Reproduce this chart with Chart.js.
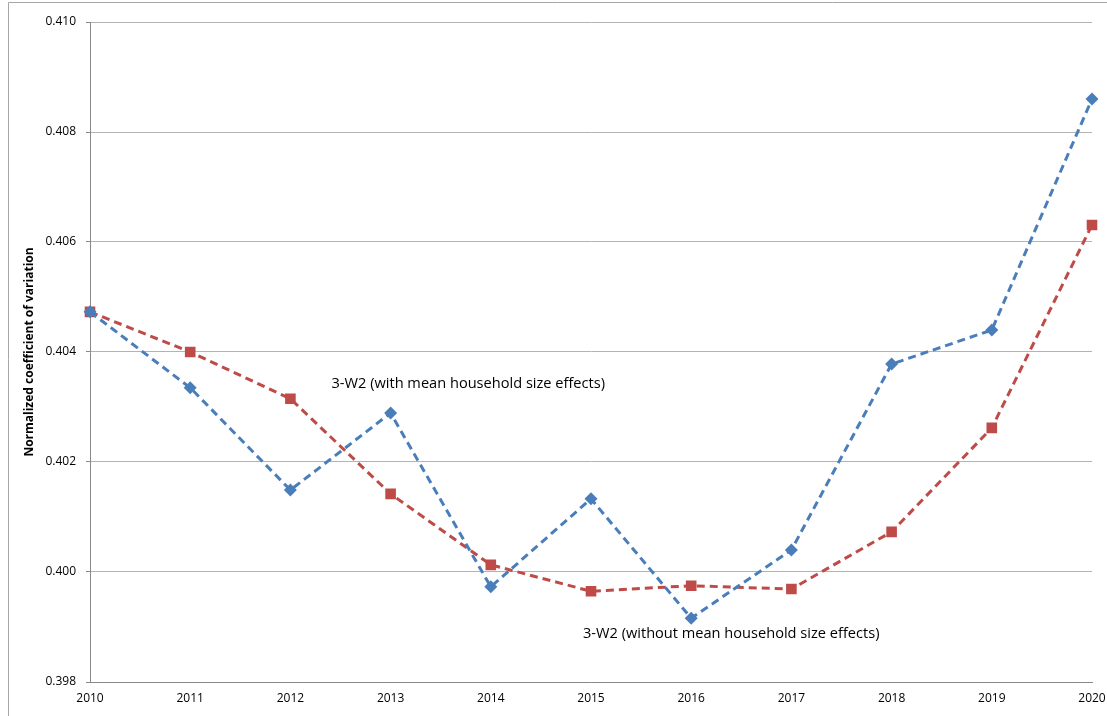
<!DOCTYPE html>
<html>
<head>
<meta charset="utf-8">
<script src="https://cdn.jsdelivr.net/npm/chart.js@4.4.1/dist/chart.umd.min.js"></script>
<style>
html,body{margin:0;padding:0;background:#fff;}
#wrap{position:relative;width:1107px;height:716px;}
</style>
</head>
<body>
<div id="wrap"><canvas id="c" width="1107" height="716"></canvas></div>
<script>
const years = ['2010','2011','2012','2013','2014','2015','2016','2017','2018','2019','2020'];
const withSize = [0.40473,0.40335,0.40149,0.40289,0.39973,0.40133,0.39916,0.40040,0.40378,0.40440,0.40860];
const withoutSize = [0.40473,0.40400,0.40315,0.40142,0.40013,0.39965,0.39975,0.39969,0.40073,0.40262,0.40631];
const yTicks = [0.398,0.400,0.402,0.404,0.406,0.408,0.410];
const labelWith = '3-W2 (with mean household size effects)';
const labelWithout = '3-W2 (without mean household size effects)';
const yTitle = 'Normalized coefficient of variation';

const FONT = "'Open Sans', 'Noto Sans', sans-serif";

const overlay = {
  id:'overlay',
  afterDraw(chart){
    const ctx = chart.ctx;
    const xs = chart.scales.x, ys = chart.scales.y;
    ctx.save();
    // outer frame (left and top)
    ctx.strokeStyle = '#a6a6a6';
    ctx.lineWidth = 1;
    ctx.beginPath();
    ctx.moveTo(8.5,716); ctx.lineTo(8.5,2.5); ctx.lineTo(1107,2.5);
    ctx.stroke();
    // y title
    ctx.fillStyle = '#000';
    ctx.font = "bold 12px " + FONT;
    ctx.textAlign = 'center';
    ctx.textBaseline = 'middle';
    ctx.translate(30, (ys.top+ys.bottom)/2);
    ctx.rotate(-Math.PI/2);
    ctx.fillText(yTitle, 0, 0);
    ctx.restore();
    ctx.save();
    ctx.fillStyle = '#000';
    ctx.font = "14.6px " + FONT;
    ctx.textAlign = 'left';
    ctx.textBaseline = 'middle';
    ctx.fillText(labelWith, xs.getPixelForValue(2.41), ys.getPixelForValue(0.40342));
    ctx.fillText(labelWithout, xs.getPixelForValue(4.92), ys.getPixelForValue(0.39887));
    ctx.restore();
  }
};

new Chart(document.getElementById('c'), {
  type:'line',
  data:{
    labels: years,
    datasets:[
      {label:labelWith, data:withSize, borderColor:'#4a7ebb', backgroundColor:'#4a7ebb',
       borderWidth:3, borderDash:[8,5], pointStyle:'rectRot', pointRadius:6.5, pointHoverRadius:6.5,
       pointBorderWidth:0, tension:0, fill:false},
      {label:labelWithout, data:withoutSize, borderColor:'#be4b48', backgroundColor:'#be4b48',
       borderWidth:3, borderDash:[8,5], pointStyle:'rect', pointRadius:7.5, pointHoverRadius:7.5,
       pointBorderWidth:0, tension:0, fill:false}
    ]
  },
  options:{
    responsive:false,
    animation:false,
    events:[],
    layout:{padding:{top:22,right:15,left:0,bottom:0}},
    plugins:{legend:{display:false},tooltip:{enabled:false}},
    scales:{
      x:{
        type:'category',
        offset:false,
        grid:{display:false, drawTicks:false},
        border:{color:'#888888', width:1},
        ticks:{color:'#000', font:{family:FONT,size:12}, padding:9, maxRotation:0, autoSkip:false},
        afterFit(s){ s.height = 34; s.paddingLeft = 0; s.paddingRight = 0; }
      },
      y:{
        min:0.398, max:0.410,
        afterBuildTicks(s){ s.ticks = yTicks.map(v=>({value:v})); },
        grid:{color:'#b3b3b3', lineWidth:1, tickLength:4, tickColor:'#888888'},
        border:{color:'#888888', width:1},
        ticks:{color:'#000', font:{family:FONT,size:12}, padding:10,
          callback:(v)=>Number(v).toFixed(3)},
        afterFit(s){ s.width = 90; s.paddingTop = 0; s.paddingBottom = 0; }
      }
    }
  },
  plugins:[overlay]
});
</script>
</body>
</html>
